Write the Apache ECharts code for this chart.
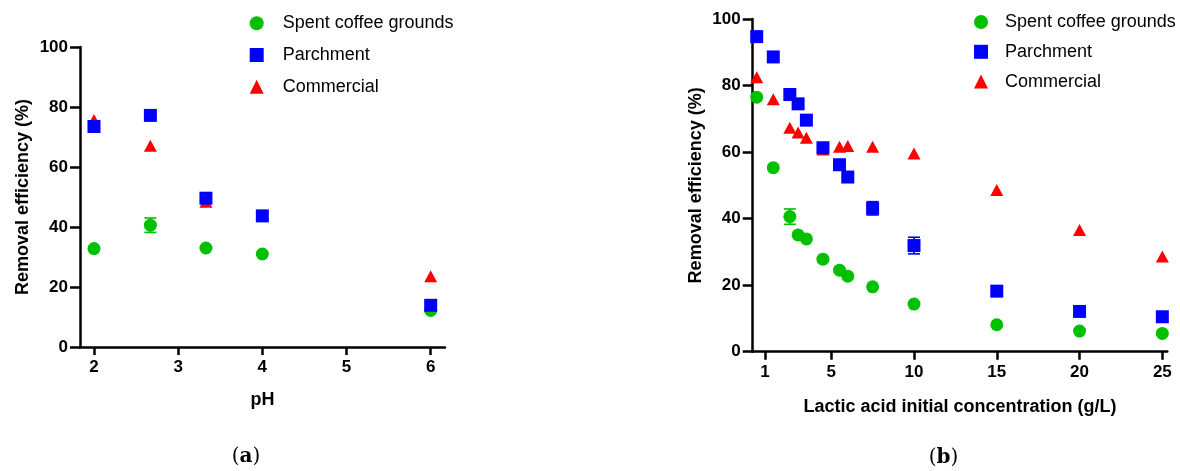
<!DOCTYPE html>
<html><head><meta charset="utf-8">
<script src="https://cdn.jsdelivr.net/npm/echarts@6/dist/echarts.min.js"></script>
<style>html,body{margin:0;padding:0;background:#fff}#c{width:1180px;height:471px}</style>
</head><body><div id="c"></div>
<script>
// (a) pH
const phX = [2, 2.67, 3.33, 4, 6];
const phSpent = [32.8, 40.6, 33.0, 31.0, 12.2];
const phSpentErr = [0, 2.4, 0, 0, 0];
const phParch = [73.5, 77.2, 49.6, 43.7, 13.9];
const phComm = [75.7, 67.1, 48.4, 44.0, 23.6];
const phTicks = [2, 3, 4, 5, 6];
// (b) lactic acid concentration
const concX = [0.5, 1.5, 2.5, 3, 3.5, 4.5, 5.5, 6, 7.5, 10, 15, 20, 25];
const concSpent = [76.5, 55.3, 40.6, 35.1, 33.9, 27.8, 24.5, 22.7, 19.5, 14.3, 8.1, 6.2, 5.5];
const concSpentErr = [0, 0, 2.3, 0, 0, 0, 0, 0, 0, 0, 0, 0, 0];
const concParch = [94.7, 88.6, 77.3, 74.5, 69.6, 61.3, 56.2, 52.5, 43.1, 31.9, 18.2, 12.1, 10.5];
const concParchErr = [0, 0, 0, 0, 0, 0, 0, 0, 2.0, 2.5, 0, 0, 0];
const concComm = [82.5, 75.9, 67.3, 65.9, 64.3, 60.8, 61.6, 61.8, 61.6, 59.6, 48.6, 36.6, 28.6];
const concTicks = [1, 5, 10, 15, 20, 25];
const names = ['Spent coffee grounds', 'Parchment', 'Commercial'];
const yName = 'Removal efficiency (%)';
const xNameA = 'pH';
const xNameB = 'Lactic acid initial concentration (g/L)';

const GREEN = '#00c000', BLUE = '#0000ff', RED = '#ff0000';
const FONT = '"Liberation Sans", Arial, sans-serif';

const chart = echarts.init(document.getElementById('c'));

function pairs(xs, ys) { return xs.map((x, i) => [x, ys[i]]); }
function errData(xs, ys, es) {
  return xs.map((x, i) => [x, ys[i], es[i]]).filter(d => d[2] > 0);
}
function errSeries(idx, data, color) {
  return {
    type: 'custom', xAxisIndex: idx, yAxisIndex: idx, data: data, silent: true, clip: false, z: 1,
    renderItem: function (params, api) {
      const x = api.value(0), y = api.value(1), e = api.value(2);
      const lo = api.coord([x, y - e]), hi = api.coord([x, y + e]);
      const w = 6;
      const st = { stroke: color, lineWidth: 1.6 };
      return { type: 'group', children: [
        { type: 'line', shape: { x1: lo[0], y1: lo[1], x2: hi[0], y2: hi[1] }, style: st },
        { type: 'line', shape: { x1: lo[0] - w, y1: lo[1], x2: lo[0] + w, y2: lo[1] }, style: st },
        { type: 'line', shape: { x1: hi[0] - w, y1: hi[1], x2: hi[0] + w, y2: hi[1] }, style: st }
      ]};
    }
  };
}
function scat(idx, name, data, color, symbol) {
  return { type: 'scatter', name: name, xAxisIndex: idx, yAxisIndex: idx, data: data,
    symbol: symbol, symbolSize: symbol === 'triangle' ? [13, 12] : 13,
    itemStyle: { color: color, opacity: 1 }, z: 2 };
}
const axisLineStyle = { color: '#000', width: 2.5 };
function xAxis(idx, min, max, ticks, name, gap) {
  return { type: 'value', gridIndex: idx, min: min, max: max,
    name: name, nameLocation: 'middle', nameGap: gap,
    nameTextStyle: { fontFamily: FONT, fontWeight: 'bold', fontSize: 18, color: '#000' },
    axisLine: { show: true, onZero: false, lineStyle: axisLineStyle },
    axisTick: { show: true, length: 8, lineStyle: axisLineStyle, customValues: ticks },
    axisLabel: { fontFamily: FONT, fontWeight: 'bold', fontSize: 17, color: '#000', margin: 12, customValues: ticks },
    splitLine: { show: false } };
}
function yAxis(idx) {
  return { type: 'value', gridIndex: idx, min: 0, max: 100, interval: 20,
    name: yName, nameLocation: 'middle', nameGap: 48,
    nameTextStyle: { fontFamily: FONT, fontWeight: 'bold', fontSize: 18, color: '#000' },
    axisLine: { show: true, lineStyle: axisLineStyle },
    axisTick: { show: true, length: 10, lineStyle: axisLineStyle },
    axisLabel: { fontFamily: FONT, fontWeight: 'bold', fontSize: 17, color: '#000', margin: 12 },
    splitLine: { show: false } };
}
function legend(left, top, gap, pad) {
  return { orient: 'vertical', left: left, top: top, padding: 0, itemWidth: 14, itemHeight: 14, itemGap: gap,
    data: names, selectedMode: false,
    textStyle: { fontFamily: FONT, fontSize: 18, color: '#000', padding: [0, 0, 0, pad] } };
}

chart.setOption({
  animation: false,
  backgroundColor: '#fff',
  grid: [
    { left: 80, top: 47, width: 365, height: 300 },
    { left: 752.7, top: 19, width: 414.6, height: 332.7 }
  ],
  xAxis: [
    xAxis(0, 1.834, 6.17, phTicks, xNameA, 44),
    xAxis(1, 0.257, 25.3, concTicks, xNameB, 46)
  ],
  yAxis: [yAxis(0), yAxis(1)],
  legend: [legend(249.7, 14.3, 13.7, 14), legend(974, 13, 11.8, 12)],
  series: [
    errSeries(0, errData(phX, phSpent, phSpentErr), GREEN),
    scat(0, names[0], pairs(phX, phSpent), GREEN, 'circle'),
    scat(0, names[2], pairs(phX, phComm), RED, 'triangle'),
    scat(0, names[1], pairs(phX, phParch), BLUE, 'rect'),
    errSeries(1, errData(concX, concSpent, concSpentErr), GREEN),
    errSeries(1, errData(concX, concParch, concParchErr), BLUE),
    scat(1, names[0], pairs(concX, concSpent), GREEN, 'circle'),
    scat(1, names[2], pairs(concX, concComm), RED, 'triangle'),
    scat(1, names[1], pairs(concX, concParch), BLUE, 'rect')
  ],
  graphic: [
    { type: 'text', x: 246, y: 457, style: { text: '{p|(}{b|a}{p|)}', align: 'center', verticalAlign: 'middle',
      rich: { p: { fontFamily: '"DejaVu Serif", serif', fontSize: 20, fill: '#000' },
              b: { fontFamily: '"DejaVu Serif", serif', fontSize: 20, fontWeight: 'bold', fill: '#000' } } } },
    { type: 'text', x: 943.5, y: 458, style: { text: '{p|(}{b|b}{p|)}', align: 'center', verticalAlign: 'middle',
      rich: { p: { fontFamily: '"DejaVu Serif", serif', fontSize: 20, fill: '#000' },
              b: { fontFamily: '"DejaVu Serif", serif', fontSize: 20, fontWeight: 'bold', fill: '#000' } } } }
  ]
});
</script></body></html>
